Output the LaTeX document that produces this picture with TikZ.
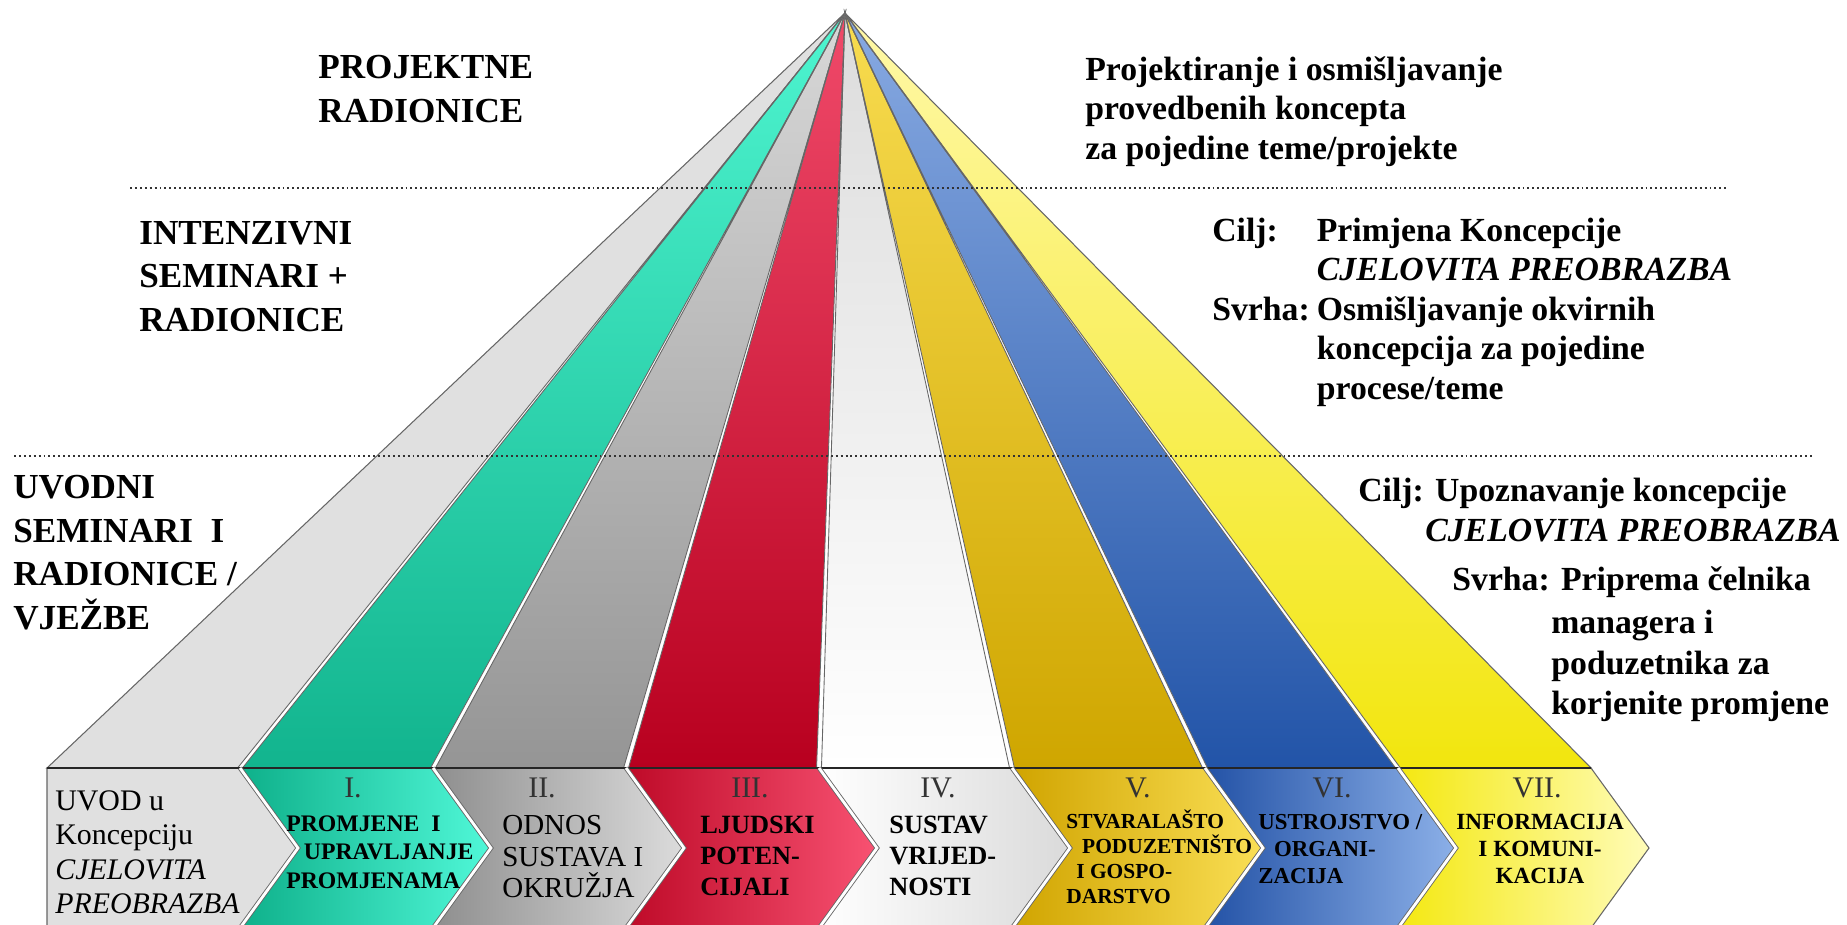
\documentclass[tikz,border=0pt]{standalone}
\usepackage{fontspec}
\setmainfont{Liberation Serif}

\definecolor{uvodgray}{HTML}{E0E0E0}
\definecolor{tealtop}{HTML}{4EF5D0}
\definecolor{tealbot}{HTML}{12B48E}
\definecolor{tealdark}{HTML}{0EB08A}
\definecolor{teallight}{HTML}{50F8D8}
\definecolor{greytop}{HTML}{D8D8D8}
\definecolor{greybot}{HTML}{959595}
\definecolor{greydark}{HTML}{8E8E8E}
\definecolor{greylight}{HTML}{DCDCDC}
\definecolor{redtop}{HTML}{F04A6A}
\definecolor{redbot}{HTML}{B8001F}
\definecolor{reddark}{HTML}{BE0A28}
\definecolor{redlight}{HTML}{F85272}
\definecolor{whitetop}{HTML}{DCDCDC}
\definecolor{whitelight}{HTML}{DADADA}
\definecolor{goldtop}{HTML}{F8DC50}
\definecolor{goldbot}{HTML}{CFA600}
\definecolor{golddark}{HTML}{D0A400}
\definecolor{goldlight}{HTML}{FADF55}
\definecolor{bluetop}{HTML}{88AAE2}
\definecolor{bluebot}{HTML}{2254A8}
\definecolor{bluedark}{HTML}{2352A6}
\definecolor{bluelight}{HTML}{8CB0E8}
\definecolor{yeltop}{HTML}{FFF8A8}
\definecolor{yelbot}{HTML}{F2E60E}
\definecolor{yeldark}{HTML}{F4E810}
\definecolor{yellight}{HTML}{FFFCB8}

\newcommand{\ttlfont}{\fontsize{20}{24.75}\selectfont\bfseries}
\newcommand{\notefont}{\fontsize{19.2}{22.5}\selectfont\bfseries}
\newcommand{\numfont}{\fontsize{17}{20}\selectfont}

\begin{document}
\begin{tikzpicture}[x=0.2mm,y=-0.2mm,
                    band/.style={draw=black!60,line width=0.6pt},
                    chev/.style={draw=black!60,line width=0.6pt},
                    gapline/.style={draw=black!60,line width=0.5pt,double=white,double distance=1.6pt},
                    dotline/.style={black!80,line width=1.1pt,dash pattern=on 1.1pt off 1.7pt}]
  \tikzstyle{lefttitle}=[anchor=north west,inner sep=0pt,align=left,font=\ttlfont]
  \tikzstyle{righttext}=[anchor=north west,inner sep=0pt,align=left,font=\notefont]
  \tikzstyle{chevtext}=[anchor=north west,inner sep=0pt,align=left]
  \tikzstyle{numlabel}=[inner sep=0pt,font=\numfont,text=black!80]

  \useasboundingbox (0,0) rectangle (1847,925);
  \clip (0,0) rectangle (1847,925);

  \coordinate (apex) at (845,13);
  \coordinate (b0) at (47,768);
  \coordinate (d0) at (47,928);
  \foreach \i/\x in {1/240,2/433,3/626,4/819,5/1012,6/1205,7/1398,8/1591}{
    \coordinate (b\i) at (\x,768);
    \coordinate (t\i) at (\x+58,848);
    \coordinate (d\i) at (\x,928);
  }

  % fan
  \filldraw[band,fill=uvodgray] (apex) -- (b0) -- (b1) -- cycle;
  \shadedraw[band,top color=tealtop,bottom color=tealbot] (apex) -- (b1) -- (b2) -- cycle;
  \shadedraw[band,top color=greytop,bottom color=greybot] (apex) -- (b2) -- (b3) -- cycle;
  \shadedraw[band,top color=redtop,bottom color=redbot] (apex) -- (b3) -- (b4) -- cycle;
  \shadedraw[band,top color=whitetop,bottom color=white] (apex) -- (b4) -- (b5) -- cycle;
  \shadedraw[band,top color=goldtop,bottom color=goldbot] (apex) -- (b5) -- (b6) -- cycle;
  \shadedraw[band,top color=bluetop,bottom color=bluebot] (apex) -- (b6) -- (b7) -- cycle;
  \shadedraw[band,top color=yeltop,bottom color=yelbot] (apex) -- (b7) -- (b8) -- cycle;

  % chevrons
  \filldraw[chev,fill=uvodgray] (b0) -- (b1) -- (t1) -- (d1) -- (d0) -- cycle;
  \shadedraw[chev,left color=tealdark,right color=teallight] (b1) -- (b2) -- (t2) -- (d2) -- (d1) -- (t1) -- cycle;
  \shadedraw[chev,left color=greydark,right color=greylight] (b2) -- (b3) -- (t3) -- (d3) -- (d2) -- (t2) -- cycle;
  \shadedraw[chev,left color=reddark,right color=redlight] (b3) -- (b4) -- (t4) -- (d4) -- (d3) -- (t3) -- cycle;
  \shadedraw[chev,left color=white,right color=whitelight] (b4) -- (b5) -- (t5) -- (d5) -- (d4) -- (t4) -- cycle;
  \shadedraw[chev,left color=golddark,right color=goldlight] (b5) -- (b6) -- (t6) -- (d6) -- (d5) -- (t5) -- cycle;
  \shadedraw[chev,left color=bluedark,right color=bluelight] (b6) -- (b7) -- (t7) -- (d7) -- (d6) -- (t6) -- cycle;
  \shadedraw[chev,left color=yeldark,right color=yellight] (b7) -- (b8) -- (t8) -- (d8) -- (d7) -- (t7) -- cycle;

  \foreach \i in {1,...,7}
    \filldraw[fill=white,draw=black!60,line width=0.5pt] (apex) -- ([xshift=-1.4pt]b\i) -- ([xshift=1.4pt]b\i) -- cycle;
  \draw[black!85,line width=1.2pt] (b0) -- (b8);
  \foreach \i in {1,...,7}
    \draw[gapline] (b\i) -- (t\i) -- (d\i);

  % levels
  \draw[dotline] (130,188) -- (1729,188);
  \draw[dotline] (14,456) -- (1814,456);

  \node[lefttitle] (projekt) at (318,55) {PROJEKTNE\\RADIONICE};
  \node[lefttitle] (intenz) at (139,221) {INTENZIVNI\\SEMINARI +\\RADIONICE};
  \node[lefttitle] (uvodni) at (13,475) {UVODNI\\SEMINARI\ \ I\\RADIONICE /\\VJEŽBE};

  \node[righttext] (projdesc) at (1085,56) {Projektiranje i osmišljavanje\\provedbenih koncepta\\za pojedine teme/projekte};
  \node[righttext] (intdesc) at (1212,213) {\begin{tabular}{@{}l@{\hspace{4pt}}l@{}}
      Cilj:  & Primjena Koncepcije\\
             & \textit{CJELOVITA PREOBRAZBA}\\
      Svrha: & Osmišljavanje okvirnih\\
             & koncepcija za pojedine\\
             & procese/teme
    \end{tabular}};
  \node[righttext] (uvcilj) at (1358,478) {Cilj: Upoznavanje koncepcije};
  \node[righttext] (uvcilj2) at (1425,519) {\textit{CJELOVITA PREOBRAZBA}};
  \node[righttext] (uvsvrha) at (1452,566) {Svrha: Priprema čelnika};
  \node[righttext,font=\fontsize{19.2}{23}\selectfont\bfseries] (uvsvrha2) at (1551,610) {managera i\\poduzetnika za\\korjenite promjene};

  \node[numlabel] (n1) at (353,788) {I.};
  \node[numlabel] (n2) at (542,788) {II.};
  \node[numlabel] (n3) at (750,788) {III.};
  \node[numlabel] (n4) at (938,788) {IV.};
  \node[numlabel] (n5) at (1138,788) {V.};
  \node[numlabel] (n6) at (1332,788) {VI.};
  \node[numlabel] (n7) at (1537,788) {VII.};

  \node[chevtext,font=\fontsize{17}{19.6}\selectfont] (c0) at (55,790) {UVOD u\\Koncepciju\\\textit{CJELOVITA}\\\textit{PREOBRAZBA}};
  \node[chevtext,font=\fontsize{13.5}{16.2}\selectfont\bfseries] (c1) at (286,815) {PROMJENE\ \ I\\\hspace*{10pt}UPRAVLJANJE\\PROMJENAMA};
  \node[chevtext,font=\fontsize{16.5}{17.9}\selectfont] (c2) at (502,815) {ODNOS\\SUSTAVA I\\OKRUŽJA};
  \node[chevtext,font=\fontsize{15}{17.6}\selectfont\bfseries] (c3) at (700,816) {LJUDSKI\\POTEN-\\CIJALI};
  \node[chevtext,font=\fontsize{15}{17.6}\selectfont\bfseries] (c4) at (889,816) {SUSTAV\\VRIJED-\\NOSTI};
  \node[chevtext,font=\fontsize{12.2}{14.2}\selectfont\bfseries] (c5) at (1066,810) {STVARALAŠTO\\\hspace*{9pt}PODUZETNIŠTO\\\hspace*{5.7pt}I GOSPO-\\DARSTVO};
  \node[chevtext,font=\fontsize{13}{15.4}\selectfont\bfseries] (c6) at (1258,814) {USTROJSTVO /\\\hspace*{9pt}ORGANI-\\ZACIJA};
  \node[chevtext,anchor=north,align=center,font=\fontsize{13.2}{15.4}\selectfont\bfseries] (c7) at (1540,814) {INFORMACIJA\\I KOMUNI-\\KACIJA};
\end{tikzpicture}
\end{document}
